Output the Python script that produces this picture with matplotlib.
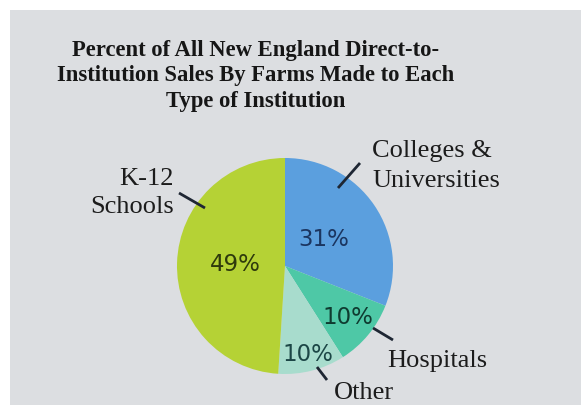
import numpy as np
import matplotlib
matplotlib.use("Agg")
import matplotlib.pyplot as plt
from matplotlib.patches import Rectangle

# Share of direct-to-institution farm sales by institution type
categories = ["Colleges &\nUniversities", "Hospitals", "Other", "K-12\nSchools"]
shares = [31, 10, 10, 49]
colors = ["#5b9fde", "#4ec8a6", "#a8dccd", "#b5d235"]
pct_colors = ["#1b3560", "#0f3b30", "#1c4646", "#2e3a0c"]
pct_radius = [0.43, 0.75, 0.85, 0.46]

title = ("Percent of All New England Direct-to-\n"
         "Institution Sales By Farms Made to Each\n"
         "Type of Institution")

W, H = 581, 405
fig = plt.figure(figsize=(W / 100, H / 100), dpi=100)
fig.patch.set_facecolor("white")
fig.patches.append(Rectangle((10 / W, 0), 1 - 10 / W, 1 - 10 / H,
                             transform=fig.transFigure, facecolor="#dcdee1",
                             edgecolor="none", zorder=-5))

fig.text(256 / W, 1 - 76 / H, title, ha="center", va="center",
         family="Liberation Serif", weight="bold", fontsize=16.3,
         linespacing=1.26, color="#161616")

# pie centred at (285, 266) px with a 108 px radius
cx, cy, r = 285, 266, 108
ax = fig.add_axes([(cx - r) / W, (H - cy - r) / H, 2 * r / W, 2 * r / H])
ax.set_facecolor("none")
wedges, _ = ax.pie(shares, colors=colors, startangle=90, counterclock=False,
                   radius=1, wedgeprops=dict(linewidth=0))
ax.set_xlim(-1, 1)
ax.set_ylim(-1, 1)
ax.set_aspect("equal")
ax.axis("off")

for w, s, rad, c in zip(wedges, shares, pct_radius, pct_colors):
    mid = np.deg2rad((w.theta1 + w.theta2) / 2)
    ax.text(rad * np.cos(mid), rad * np.sin(mid), f"{s}%", ha="center",
            va="center", family="DejaVu Sans", fontsize=16.5, color=c)


def px(x, y):
    return (x - cx) / r, (cy - y) / r


label_font = dict(family="Liberation Serif", fontsize=19, color="#1c1c1c")
line_kw = dict(color="#1e2633", lw=2, clip_on=False, solid_capstyle="butt")

# leader lines
leaders = [((338, 188), (360, 163)), ((373, 328), (393, 340)),
           ((317, 367), (327, 380)), ((205, 208), (179, 193))]
for (a, b) in leaders:
    p, q = px(*a), px(*b)
    ax.plot([p[0], q[0]], [p[1], q[1]], **line_kw)

# category names: anchor x, first baseline y, line gap (px), alignment
name_pos = [(372, 157, 30, "left"), (387, 367, 0, "left"),
            (334, 399, 0, "left"), (174, 185, 28, "right")]
for name, (x0, y0, gap, ha) in zip(categories, name_pos):
    for i, line in enumerate(name.split("\n")):
        ax.text(*px(x0, y0 + i * gap), line, ha=ha, va="baseline",
                **label_font)

fig.savefig("out.png", dpi=100)
